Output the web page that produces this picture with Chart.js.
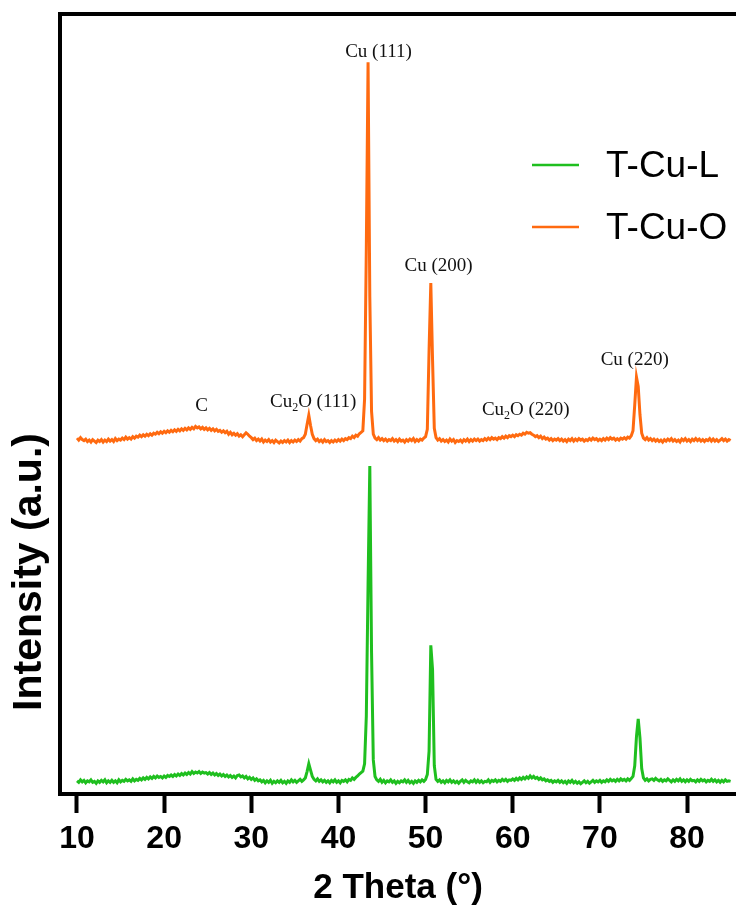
<!DOCTYPE html>
<html>
<head>
<meta charset="utf-8">
<title>XRD T-Cu-L / T-Cu-O</title>
<script src="https://cdn.jsdelivr.net/npm/chart.js@4.4.1/dist/chart.umd.min.js"></script>
<style>
  html, body { margin: 0; padding: 0; background: #ffffff; overflow: hidden; }
  canvas { display: block; }
</style>
</head>
<body>
<canvas id="xrdChart" width="736" height="913"></canvas>
<script>
  "use strict";

  // scan settings (2 theta, degrees)
  const scanStart = 10;
  const scanStep = 0.2;

  // intensities, one value per scan step (10.0 .. 85.0)
  const tCuL = [
    27, 24, 29, 25, 28,  23, 27, 25, 29, 24,
    26, 22, 27, 24, 28,  25, 29, 23, 27, 24,
    28, 24, 27, 23, 29,  25, 28, 26, 30, 27,
    29, 26, 31, 27, 30,  28, 32, 29, 33, 30,
    34, 31, 35, 32, 36,  33, 37, 34, 36, 33,
    37, 34, 38, 36, 39,  36, 40, 37, 41, 38,
    42, 39, 43, 40, 44,  41, 46, 42, 45, 43,
    46, 42, 45, 43, 44,  41, 44, 40, 43, 39,
    42, 38, 41, 37, 40,  36, 39, 35, 38, 34,
    37, 33, 38, 39, 35,  37, 33, 36, 31, 34,
    30, 33, 28, 31, 27,  29, 25, 28, 23, 27,
    24, 28, 22, 26, 23,  27, 24, 28, 23, 26,
    22, 27, 24, 29, 25,  28, 24, 27, 30, 26,
    29, 33, 46, 62, 49,  36, 30, 27, 31, 26,
    29, 25, 28, 24, 27,  23, 28, 25, 29, 24,
    27, 23, 28, 26, 29,  25, 30, 28, 33, 30,
    34, 37, 41, 44, 47,  62, 160, 430, 673, 290,
    70, 36, 29, 26, 30,  24, 28, 23, 27, 25,
    29, 24, 27, 22, 26,  23, 27, 25, 29, 24,
    28, 23, 26, 22, 27,  24, 28, 25, 29, 26,
    30, 40, 88, 305, 255,  58, 30, 26, 29, 24,
    27, 23, 28, 25, 29,  24, 27, 23, 26, 22,
    26, 29, 24, 28, 25,  23, 27, 25, 29, 24,
    28, 24, 27, 23, 26,  25, 29, 24, 28, 26,
    29, 25, 28, 26, 30,  27, 30, 26, 29, 28,
    31, 28, 32, 29, 33,  30, 34, 31, 35, 32,
    37, 33, 36, 32, 34,  30, 33, 29, 31, 27,
    29, 26, 28, 24, 27,  25, 28, 24, 27, 23,
    26, 22, 27, 24, 28,  23, 26, 22, 25, 21,
    24, 27, 23, 26, 22,  25, 28, 24, 27, 25,
    28, 24, 27, 25, 29,  26, 30, 27, 29, 26,
    30, 27, 31, 28, 30,  27, 31, 28, 32, 36,
    58, 118, 154, 115, 52,  33, 28, 31, 27, 30,
    31, 28, 32, 29, 27,  30, 26, 29, 27, 31,
    28, 25, 29, 26, 30,  27, 31, 26, 29, 25,
    29, 26, 30, 27, 28,  25, 29, 26, 30, 27,
    29, 25, 28, 26, 30,  26, 29, 25, 28, 24,
    28, 25, 29, 26, 27,
    26
  ];

  const tCuO = [
    30, 26, 31, 27, 25,  28, 23, 26, 22, 27,
    24, 21, 26, 23, 27,  22, 26, 23, 28, 24,
    27, 23, 29, 25, 28,  26, 30, 27, 32, 28,
    31, 28, 33, 30, 34,  32, 36, 33, 37, 34,
    38, 35, 39, 36, 40,  38, 42, 39, 43, 40,
    44, 41, 45, 42, 46,  43, 47, 44, 48, 45,
    49, 46, 50, 47, 51,  48, 52, 49, 54, 51,
    53, 49, 52, 48, 51,  47, 50, 46, 49, 45,
    48, 44, 46, 42, 45,  41, 44, 38, 42, 37,
    40, 36, 39, 34, 37,  33, 37, 41, 38, 34,
    31, 27, 30, 25, 28,  24, 28, 22, 26, 23,
    27, 22, 25, 21, 26,  23, 20, 24, 21, 25,
    22, 26, 21, 25, 22,  26, 23, 27, 24, 29,
    31, 38, 58, 77, 56,  38, 29, 25, 28, 23,
    26, 22, 27, 23, 25,  21, 25, 22, 26, 23,
    27, 24, 28, 25, 29,  27, 31, 29, 34, 31,
    36, 34, 39, 42, 45,  110, 420, 801, 320, 85,
    38, 30, 27, 31, 26,  29, 25, 28, 24, 27,
    25, 29, 24, 27, 23,  28, 24, 26, 22, 27,
    24, 28, 25, 29, 23,  27, 24, 28, 26, 30,
    33, 48, 210, 348, 190,  50, 31, 26, 29, 24,
    27, 23, 26, 22, 28,  24, 27, 21, 25, 23,
    26, 22, 27, 24, 28,  23, 27, 24, 28, 25,
    28, 24, 27, 25, 29,  26, 30, 27, 31, 28,
    30, 27, 31, 29, 33,  30, 34, 31, 35, 33,
    36, 33, 37, 35, 38,  36, 40, 38, 42, 40,
    41, 38, 36, 33, 35,  31, 34, 29, 32, 28,
    30, 26, 29, 25, 28,  26, 29, 25, 28, 24,
    27, 23, 28, 25, 29,  24, 28, 25, 29, 26,
    28, 24, 27, 25, 29,  26, 30, 27, 29, 25,
    28, 25, 29, 26, 30,  27, 31, 28, 30, 26,
    29, 26, 30, 28, 31,  28, 32, 30, 35, 45,
    98, 155, 136, 78, 40,  30, 27, 31, 26, 29,
    25, 28, 24, 27, 23,  26, 22, 27, 24, 28,
    25, 29, 24, 27, 23,  26, 22, 28, 25, 29,
    24, 27, 23, 28, 25,  29, 25, 28, 24, 27,
    23, 27, 25, 29, 24,  28, 24, 27, 23, 26,
    29, 25, 28, 24, 27,
    25
  ];

  // vertical stacking offset of the T-Cu-O pattern
  const offsetO = 700;

  const seriesNames = ['T-Cu-L', 'T-Cu-O'];
  const xTicks = [10, 20, 30, 40, 50, 60, 70, 80];

  // peak labels: text ("_2" = subscript 2), 2 theta, intensity of text baseline
  const peakText = ['C', 'Cu_2O (111)', 'Cu (111)', 'Cu (200)', 'Cu_2O (220)', 'Cu (220)'];
  const peakTheta = [24.3, 37.1, 44.6, 51.5, 61.5, 74.0];
  const peakLevel = [786, 794, 1512, 1073, 777, 880];

  const green  = '#1fbf1f';
  const orange = '#ff6a10';
  const sans  = "'Liberation Sans', Arial, Helvetica, sans-serif";
  const serif = "'Liberation Serif', 'Times New Roman', serif";

  const toPoints = function (arr, shift) {
    return arr.map(function (v, i) {
      return { x: +(scanStart + i * scanStep).toFixed(2), y: v + shift };
    });
  };

  // draws "Cu_2O (111)" with a real subscript, centred on cx
  function drawPeakLabel(ctx, text, cx, baseY) {
    const parts = [];
    let rest = text;
    while (rest.indexOf('_') >= 0) {
      const k = rest.indexOf('_');
      if (k > 0) parts.push({ t: rest.slice(0, k), sub: false });
      parts.push({ t: rest.charAt(k + 1), sub: true });
      rest = rest.slice(k + 2);
    }
    if (rest) parts.push({ t: rest, sub: false });
    const mainFont = '19px ' + serif;
    const subFont = '12px ' + serif;
    let total = 0;
    parts.forEach(function (p) {
      ctx.font = p.sub ? subFont : mainFont;
      p.w = ctx.measureText(p.t).width;
      total += p.w;
    });
    let x = cx - total / 2;
    ctx.textAlign = 'left';
    ctx.textBaseline = 'alphabetic';
    parts.forEach(function (p) {
      ctx.font = p.sub ? subFont : mainFont;
      ctx.fillText(p.t, x, p.sub ? baseY + 4 : baseY);
      x += p.w;
    });
  }

  const decorPlugin = {
    id: 'decor',
    beforeDraw: function (chart) {
      const ctx = chart.ctx;
      ctx.save();
      ctx.fillStyle = '#ffffff';
      ctx.fillRect(0, 0, chart.width, chart.height);
      ctx.restore();
    },
    afterDraw: function (chart) {
      const ctx = chart.ctx;
      const xs = chart.scales.x;
      const ys = chart.scales.y;
      ctx.save();

      // peak labels
      ctx.fillStyle = '#111111';
      for (let i = 0; i < peakText.length; i++) {
        drawPeakLabel(ctx, peakText[i], xs.getPixelForValue(peakTheta[i]), ys.getPixelForValue(peakLevel[i]));
      }

      // legend
      const legendColors = [green, orange];
      ctx.lineWidth = 2.5;
      ctx.font = '37px ' + sans;
      ctx.textAlign = 'left';
      ctx.textBaseline = 'alphabetic';
      for (let i = 0; i < seriesNames.length; i++) {
        const ly = 165 + i * 62;
        ctx.strokeStyle = legendColors[i];
        ctx.beginPath();
        ctx.moveTo(532, ly);
        ctx.lineTo(579, ly);
        ctx.stroke();
        ctx.fillStyle = '#000000';
        ctx.fillText(seriesNames[i], 606, ly + 12);
      }

      // axis titles
      ctx.fillStyle = '#000000';
      ctx.font = 'bold 35px ' + sans;
      ctx.textAlign = 'center';
      ctx.fillText('2 Theta (°)', (xs.left + xs.right) / 2, 898);

      ctx.translate(30, 572);
      ctx.rotate(-Math.PI / 2);
      ctx.font = 'bold 41px ' + sans;
      ctx.textBaseline = 'middle';
      ctx.fillText('Intensity (a.u.)', 0, 0);
      ctx.restore();
    }
  };

  const xMin = 8.05;
  const xMax = 85.62;

  const ctxXrd = document.getElementById('xrdChart').getContext('2d');
  const xrdChart = new Chart(ctxXrd, {
    type: 'line',
    data: {
      datasets: [{
        label: seriesNames[0],
        data: toPoints(tCuL, 0),
        borderColor: green,
        borderWidth: 3,
        pointRadius: 0,
        tension: 0,
        fill: false
      }, {
        label: seriesNames[1],
        data: toPoints(tCuO, offsetO),
        borderColor: orange,
        borderWidth: 3,
        pointRadius: 0,
        tension: 0,
        fill: false
      }]
    },
    options: {
      responsive: false,
      animation: false,
      devicePixelRatio: 1,
      parsing: false,
      layout: { padding: { left: 60, top: 14, right: 0, bottom: 0 } },
      plugins: {
        legend: { display: false },
        tooltip: { enabled: false }
      },
      scales: {
        x: {
          type: 'linear',
          position: 'bottom',
          min: xMin,
          max: xMax,
          afterBuildTicks: function (scale) {
            scale.ticks = xTicks.map(function (v) { return { value: v }; });
          },
          afterFit: function (scale) { scale.height = 119; },
          grid: {
            display: true,
            drawOnChartArea: false,
            drawTicks: true,
            tickLength: 19,
            tickWidth: 4,
            tickColor: '#000000'
          },
          border: { display: true, width: 4, color: '#000000' },
          ticks: {
            autoSkip: false,
            maxRotation: 0,
            padding: 7,
            color: '#000000',
            font: { family: sans, size: 32, weight: 'bold' }
          }
        },
        xTop: {
          type: 'linear',
          position: 'top',
          min: xMin,
          max: xMax,
          afterFit: function (scale) { scale.height = 0; },
          grid: { display: false, drawTicks: false },
          ticks: { display: false },
          border: { display: true, width: 4, color: '#000000' }
        },
        y: {
          type: 'linear',
          position: 'left',
          min: 0,
          max: 1600,
          afterFit: function (scale) { scale.width = 0; },
          grid: { display: false, drawTicks: false },
          ticks: { display: false },
          border: { display: true, width: 4, color: '#000000' }
        }
      }
    },
    plugins: [decorPlugin]
  });
</script>
</body>
</html>
